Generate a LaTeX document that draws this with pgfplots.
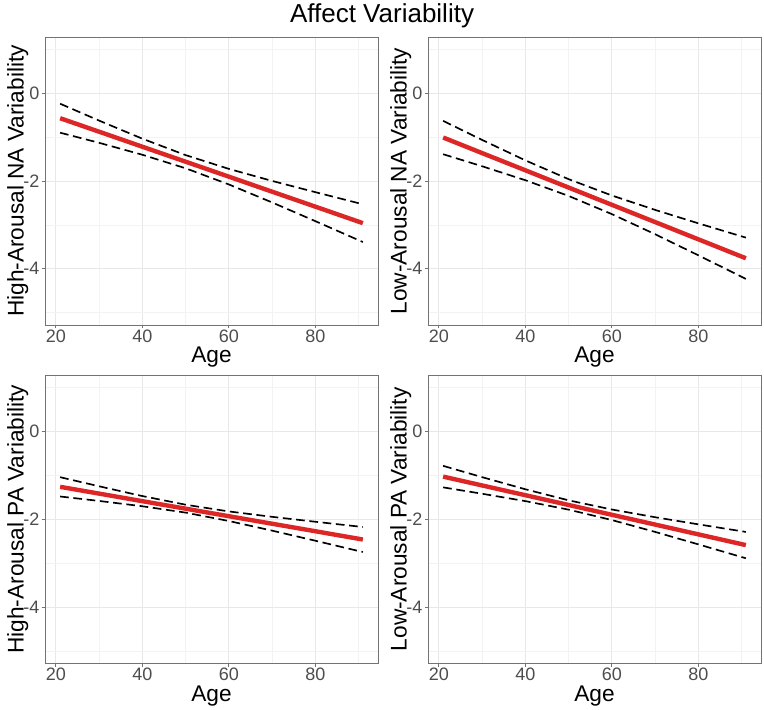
\documentclass[border=0pt]{standalone}
\usepackage{pgfplots}
\pgfplotsset{compat=1.18}
\usepackage{pgfplotstable}
\usepackage{fontspec}
\setmainfont{Liberation Sans}
\definecolor{linered}{RGB}{221,38,38}
\definecolor{gridmaj}{RGB}{232,232,232}
\definecolor{gridmin}{RGB}{243,243,243}
\definecolor{ticklab}{RGB}{77,77,77}
\definecolor{framecol}{RGB}{115,115,115}

% age, fit, upper, lower
\pgfplotstableread{
x fit up lo
21 -0.570 -0.240 -0.900
30 -0.877 -0.624 -1.130
40 -1.219 -1.036 -1.402
50 -1.560 -1.410 -1.710
60 -1.901 -1.724 -2.078
70 -2.243 -1.998 -2.488
80 -2.584 -2.254 -2.914
91 -2.960 -2.530 -3.390
}\haNA
\pgfplotstableread{
x fit up lo
21 -1.010 -0.630 -1.390
30 -1.364 -1.064 -1.664
40 -1.756 -1.530 -1.982
50 -2.149 -1.958 -2.340
60 -2.542 -2.330 -2.754
70 -2.935 -2.658 -3.212
80 -3.328 -2.964 -3.692
91 -3.760 -3.290 -4.230
}\laNA
\pgfplotstableread{
x fit up lo
21 -1.260 -1.040 -1.480
30 -1.414 -1.247 -1.581
40 -1.586 -1.470 -1.702
50 -1.757 -1.667 -1.847
60 -1.929 -1.820 -2.038
70 -2.100 -1.943 -2.257
80 -2.271 -2.055 -2.487
91 -2.460 -2.175 -2.745
}\haPA
\pgfplotstableread{
x fit up lo
21 -1.027 -0.782 -1.272
30 -1.228 -1.039 -1.417
40 -1.450 -1.315 -1.585
50 -1.673 -1.567 -1.779
60 -1.896 -1.776 -2.016
70 -2.119 -1.952 -2.286
80 -2.342 -2.114 -2.570
91 -2.587 -2.287 -2.887
}\laPA

\pgfplotsset{panel/.style={
  scale only axis, width=249.75pt, height=216pt, anchor=south west,
  xmin=17.5, xmax=94.5, ymin=-5.28, ymax=1.28,
  xtick={20,40,60,80}, xticklabels={20,40,60,80},
  ytick={-4,-2,0}, yticklabels={-4,-2,0},
  minor xtick={30,50,70,90}, minor ytick={-5,-3,-1,1},
  grid=both,
  major grid style={gridmaj, line width=0.7pt},
  minor grid style={gridmin, line width=0.4pt},
  axis line style={framecol, line width=0.7pt},
  tick align=outside, tick pos=left,
  major tick length=2.5pt, minor tick length=0pt,
  tick style={framecol, line width=0.6pt},
  tick label style={font=\fontsize{13.5}{15}\selectfont, text=ticklab},
  xticklabel style={anchor=north, inner sep=1pt},
  yticklabel style={anchor=east, inner sep=1.5pt},
  xlabel={Age},
  xlabel style={font=\fontsize{17}{20}\selectfont, at={(axis description cs:0.5,-0.112)}, anchor=center},
  ylabel style={font=\fontsize{17}{20}\selectfont, at={(axis description cs:-0.082,0.5)}, anchor=center},
  fitline/.style={linered, line width=3.3pt, no markers},
  ciline/.style={black, line width=1.25pt, dash pattern=on 6.5pt off 3.5pt, no markers},
}}

\begin{document}
\begin{tikzpicture}
\useasboundingbox (0,0) rectangle (573pt,532.5pt);
\node[font=\fontsize{19.5}{22}\selectfont] at (286.5pt,520.5pt) {Affect Variability};

\begin{axis}[panel, at={(33.75pt,288.75pt)}, ylabel={High-Arousal NA Variability}]
\addplot[ciline] table[x=x,y=up] {\haNA};
\addplot[ciline] table[x=x,y=lo] {\haNA};
\addplot[fitline] table[x=x,y=fit] {\haNA};
\end{axis}

\begin{axis}[panel, at={(321pt,288.75pt)}, ylabel={Low-Arousal NA Variability}]
\addplot[ciline] table[x=x,y=up] {\laNA};
\addplot[ciline] table[x=x,y=lo] {\laNA};
\addplot[fitline] table[x=x,y=fit] {\laNA};
\end{axis}

\begin{axis}[panel, at={(33.75pt,35pt)}, ylabel={High-Arousal PA Variability}]
\addplot[ciline] table[x=x,y=up] {\haPA};
\addplot[ciline] table[x=x,y=lo] {\haPA};
\addplot[fitline] table[x=x,y=fit] {\haPA};
\end{axis}

\begin{axis}[panel, at={(321pt,35pt)}, ylabel={Low-Arousal PA Variability}]
\addplot[ciline] table[x=x,y=up] {\laPA};
\addplot[ciline] table[x=x,y=lo] {\laPA};
\addplot[fitline] table[x=x,y=fit] {\laPA};
\end{axis}
\end{tikzpicture}
\end{document}
